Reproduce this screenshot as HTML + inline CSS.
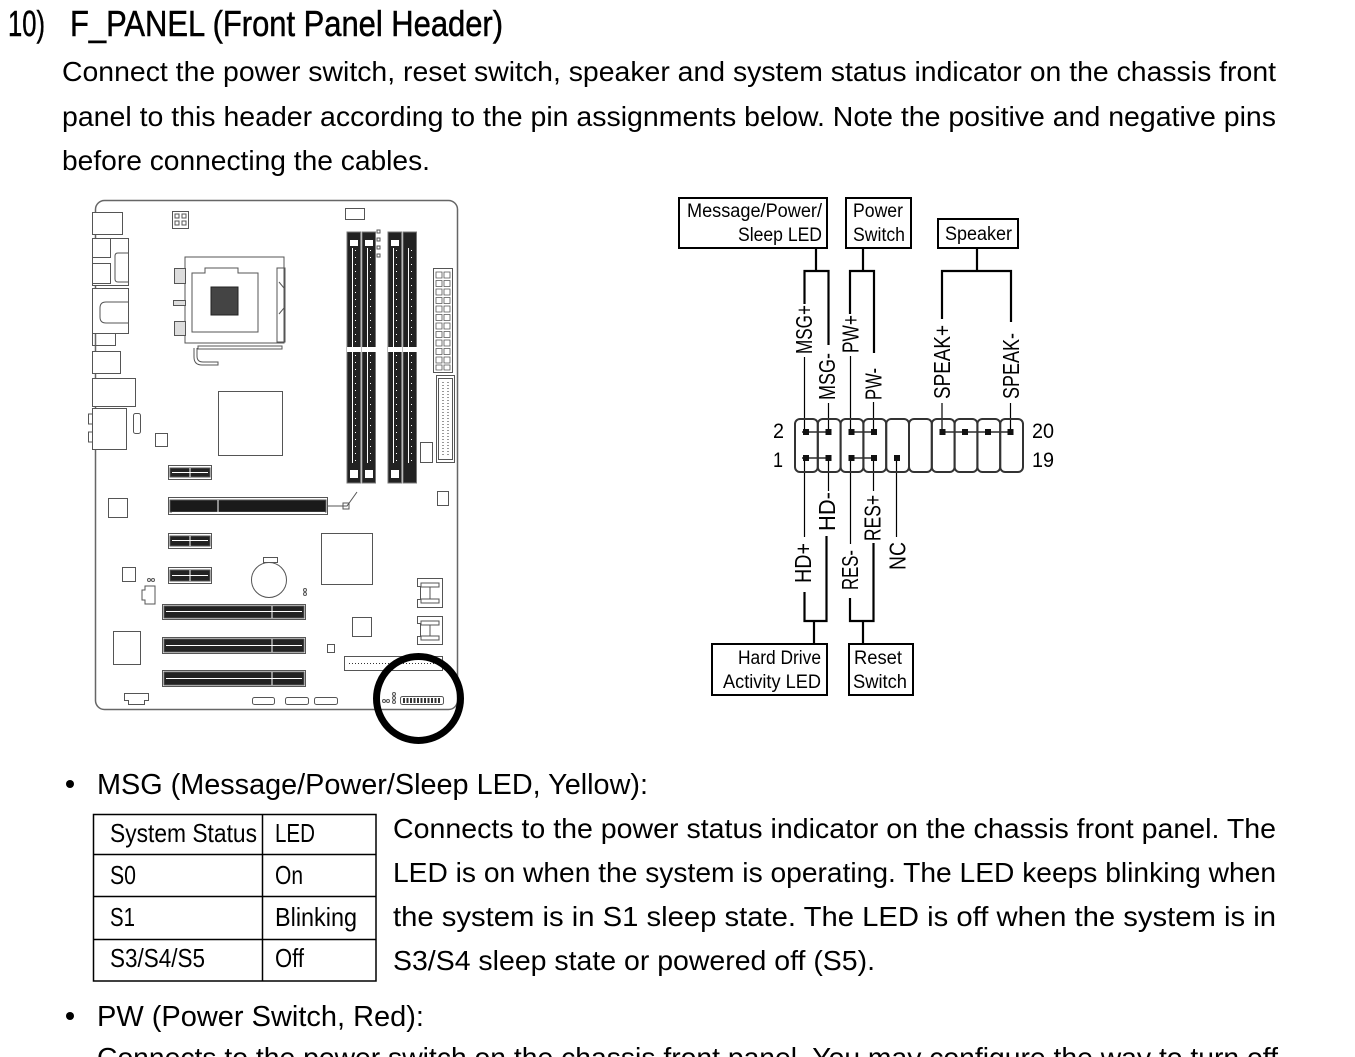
<!DOCTYPE html>
<html><head><meta charset="utf-8">
<style>
html,body{margin:0;padding:0;background:#fff;width:1355px;height:1057px;overflow:hidden;}
svg{display:block;}
text{font-family:"Liberation Sans",Arial,sans-serif;fill:#000;}
</style></head><body>
<svg width="1355" height="1057" viewBox="0 0 1355 1057" xmlns="http://www.w3.org/2000/svg">
<rect width="1355" height="1057" fill="#fff"/>

<!-- Title & intro -->
<text x="8" y="36" font-size="36" stroke="#000" stroke-width="0.5" textLength="37" lengthAdjust="spacingAndGlyphs">10)</text>
<text x="70" y="36" font-size="36" stroke="#000" stroke-width="0.5" textLength="433" lengthAdjust="spacingAndGlyphs">F_PANEL (Front Panel Header)</text>
<text x="62" y="81" font-size="28" textLength="1214" lengthAdjust="spacingAndGlyphs">Connect the power switch, reset switch, speaker and system status indicator on the chassis front</text>
<text x="62" y="126" font-size="28" textLength="1214" lengthAdjust="spacingAndGlyphs">panel to this header according to the pin assignments below. Note the positive and negative pins</text>
<text x="62" y="170" font-size="28" textLength="368" lengthAdjust="spacingAndGlyphs">before connecting the cables.</text>

<!-- Motherboard -->
<g fill="none" stroke="#555" stroke-width="1">
  <rect x="95.5" y="200.5" width="362" height="509" rx="9" stroke="#666" stroke-width="1.5"/>
  <!-- I/O -->
  <rect x="92.5" y="212.5" width="30" height="22" fill="#fff"/>
  <rect x="92.5" y="238.5" width="36" height="47" fill="#fff"/>
  <rect x="92.5" y="238.5" width="18" height="19"/>
  <rect x="92.5" y="263.5" width="18" height="20"/>
  <path d="M128 253 h-10 q-3 0 -3 3 v23 q0 3 3 3 h10"/>
  <rect x="92.5" y="288.5" width="36" height="45" fill="#fff"/>
  <path d="M92.5 333.5 v12 h23 v-12"/>
  <path d="M128 302 h-22 q-6 0 -6 6 v9 q0 6 6 6 h22"/>
  <rect x="92.5" y="351.5" width="28" height="22" fill="#fff"/>
  <rect x="92.5" y="378.5" width="43" height="28" fill="#fff"/>
  <rect x="92.5" y="408.5" width="34" height="41" fill="#fff"/>
  <path d="M92.5 414 h-4 v10 h4 M92.5 432 h-4 v10 h4"/>
  <rect x="133.5" y="413.5" width="7" height="20" rx="2"/>
  <rect x="155.5" y="433.5" width="12" height="13"/>
  <!-- ATX12V -->
  <rect x="172.5" y="211.5" width="16" height="17"/>
  <rect x="175" y="214" width="4" height="4"/><rect x="182" y="214" width="4" height="4"/>
  <rect x="175" y="221" width="4" height="4"/><rect x="182" y="221" width="4" height="4"/>
  <!-- CPU socket -->
  <path d="M185 257 h99 v86 h-99 z"/>
  <path d="M192 273 h13 v-5 h33 v5 h20 v59 h-66 z"/>
  <rect x="174.5" y="268.5" width="11" height="15" fill="#ddd"/>
  <rect x="173.5" y="300.5" width="12" height="5" fill="#ddd"/>
  <rect x="174.5" y="321.5" width="11" height="14" fill="#ddd"/>
  <path d="M277 268 h8 v74 h-8 z"/>
  <path d="M279 282 l5 6 v20 l-5 6"/>
  <rect x="211" y="287" width="27" height="28" fill="#444" stroke="#222"/>
  <path d="M198 346 h84 v3 h-84 z"/>
  <path d="M197 348 v8 q0 6 6 6 h15 v3 h-16 q-8 0 -8 -8 v-9"/>
  <!-- chipset -->
  <rect x="218.5" y="391.5" width="64" height="64"/>
  <!-- top fan header & dots -->
  <rect x="345.5" y="208.5" width="19" height="11"/>
  <rect x="377" y="230" width="3" height="3"/><rect x="377" y="238" width="3" height="3"/>
  <rect x="377" y="246" width="3" height="3"/><rect x="377" y="254" width="3" height="3"/>
  <!-- 24pin -->
  <rect x="433.5" y="268.5" width="19" height="104"/>
  <g stroke-width="0.8">
    <path d="M436 272 h6 v6 h-6 z M444 272 h6 v6 h-6 z M436 280.5 h6 v6 h-6 z M444 280.5 h6 v6 h-6 z M436 289 h6 v6 h-6 z M444 289 h6 v6 h-6 z M436 297.5 h6 v6 h-6 z M444 297.5 h6 v6 h-6 z M436 306 h6 v6 h-6 z M444 306 h6 v6 h-6 z M436 314.5 h6 v6 h-6 z M444 314.5 h6 v6 h-6 z M436 323 h6 v6 h-6 z M444 323 h6 v6 h-6 z M436 331.5 h6 v6 h-6 z M444 331.5 h6 v6 h-6 z M436 340 h6 v6 h-6 z M444 340 h6 v6 h-6 z M436 348.5 h6 v6 h-6 z M444 348.5 h6 v6 h-6 z M436 357 h6 v6 h-6 z M444 357 h6 v6 h-6 z M436 365 h6 v5 h-6 z M444 365 h6 v5 h-6 z"/>
  </g>
  <!-- IDE -->
  <rect x="436.5" y="375.5" width="18" height="87"/>
  <rect x="438.5" y="378.5" width="14" height="81"/>
  <path d="M443 382 v74 M448 382 v74" stroke="#333" stroke-dasharray="1 2"/>
  <rect x="420.5" y="442.5" width="12" height="20"/>
  <!-- PCIe x1 slots -->
  <rect x="168.5" y="465.5" width="43" height="14"/>
  <rect x="170" y="468" width="40" height="9" fill="#222"/>
  <rect x="168.5" y="533.5" width="43" height="15"/>
  <rect x="170" y="536" width="40" height="10" fill="#222"/>
  <rect x="168.5" y="567.5" width="43" height="16"/>
  <rect x="170" y="570" width="40" height="11" fill="#222"/>
  <!-- PCIe x16 -->
  <rect x="168.5" y="497.5" width="159" height="17"/>
  <rect x="170" y="500" width="156" height="12" fill="#1a1a1a"/>
  <path d="M327 506 h20 l10 -14" />
  <rect x="343" y="503" width="6" height="6"/>
  <!-- misc squares -->
  <rect x="108.5" y="498.5" width="19" height="19"/>
  <rect x="122.5" y="567.5" width="13" height="14"/>
  <circle cx="269" cy="580" r="17.5"/>
  <rect x="263.5" y="557.5" width="14" height="5"/>
  <rect x="321.5" y="533.5" width="51" height="51"/>
  <circle cx="305" cy="590" r="1.5"/><circle cx="305" cy="594" r="1.5"/>
  <circle cx="149" cy="580" r="1.5"/><circle cx="153" cy="580" r="1.5"/>
  <path d="M145 586 h10 v18 h-10 v-4 h-3 v-10 h3 z"/>
  <!-- PCI slots -->
  <rect x="162.5" y="604.5" width="143" height="15"/>
  <rect x="164" y="606" width="140" height="12" fill="#222"/>
  <rect x="162.5" y="637.5" width="143" height="16"/>
  <rect x="164" y="639" width="140" height="13" fill="#222"/>
  <rect x="162.5" y="670.5" width="143" height="16"/>
  <rect x="164" y="672" width="140" height="13" fill="#222"/>
  <rect x="113.5" y="631.5" width="27" height="33"/>
  <rect x="352.5" y="617.5" width="19" height="19"/>
  <rect x="327.5" y="644.5" width="7" height="8"/>
  <!-- SATA -->
  <path d="M417.5 578.5 h25 v29 h-25 v-8 h3 v-13 h-3 z"/>
  <path d="M421 583 h18 v4 h-18 z M421 599 h18 v4 h-18 z M430 587 v12"/>
  <path d="M417.5 616.5 h25 v28 h-25 v-8 h3 v-13 h-3 z"/>
  <path d="M421 621 h18 v4 h-18 z M421 636 h18 v4 h-18 z M430 625 v11"/>
  <!-- floppy -->
  <rect x="344.5" y="656.5" width="98" height="14"/>
  <path d="M349 663.5 h88" stroke="#333" stroke-dasharray="1 2"/>
  <rect x="437.5" y="491.5" width="11" height="14"/>
  <!-- bottom headers -->
  <path d="M124.5 693.5 h24 v7 h-4 v4 h-16 v-4 h-4 z"/>
  <rect x="252.5" y="697.5" width="22" height="7" rx="2"/>
  <rect x="285.5" y="697.5" width="23" height="7" rx="2"/>
  <rect x="314.5" y="697.5" width="23" height="7" rx="2"/>
  <rect x="400.5" y="696.5" width="43" height="8" rx="2"/>
  <path d="M403 700.5 h38" stroke="#333" stroke-dasharray="2 1.5" stroke-width="5"/>
  <circle cx="384" cy="701" r="1.5"/><circle cx="388" cy="701" r="1.5"/>
  <circle cx="394" cy="694" r="1.5"/><circle cx="394" cy="698" r="1.5"/><circle cx="394" cy="702" r="1.5"/>
</g>
<!-- PCI/PCIe slot details (white lines) -->
<g stroke="#fff" stroke-width="1" fill="none">
  <path d="M172 512.5 h153 M172 472.5 h36 M172 540.5 h36 M172 575.5 h36"/>
  <path d="M166 611.5 h136 M166 645.5 h136 M166 678.5 h136"/>
  <path d="M272 606 v12 M272 639 v13 M272 672 v13 M190 468 v9 M190 536 v10 M190 570 v11 M218 500 v12"/>
</g>
<!-- DIMM slots -->
<g>
  <rect x="347" y="232" width="13.5" height="251" fill="#222" stroke="#777"/>
  <rect x="362" y="232" width="13.5" height="251" fill="#222" stroke="#777"/>
  <rect x="388" y="232" width="13.5" height="251" fill="#222" stroke="#777"/>
  <rect x="403" y="232" width="13.5" height="251" fill="#222" stroke="#777"/>
  <g fill="#fff">
    <rect x="350" y="240" width="8" height="6"/><rect x="365" y="240" width="8" height="6"/>
    <rect x="391" y="240" width="8" height="6"/>
    <rect x="350" y="470" width="8" height="8"/><rect x="365" y="470" width="8" height="8"/>
    <rect x="391" y="470" width="8" height="8"/>
    <rect x="347" y="347" width="14" height="5"/><rect x="362" y="347" width="14" height="5"/>
    <rect x="388" y="347" width="14" height="5"/><rect x="403" y="347" width="14" height="5"/>
  </g>
  <g stroke="#fff" stroke-width="1">
    <path d="M352.5 248 v215 M367.5 248 v215 M393.5 248 v215 M408.5 248 v215"/>
  </g>
  <g stroke="#fff" stroke-width="1" stroke-dasharray="1 6">
    <path d="M355.5 250 v212 M370.5 250 v212 M396.5 250 v212 M411.5 250 v212"/>
  </g>
</g>

<!-- Highlight circle -->
<circle cx="418.5" cy="698.5" r="42" fill="none" stroke="#000" stroke-width="7"/>

<!-- Pin diagram boxes -->
<g fill="none" stroke="#000" stroke-width="2">
  <rect x="679" y="198" width="148" height="50"/>
  <rect x="846" y="198" width="65" height="50"/>
  <rect x="938" y="219" width="80" height="29"/>
  <rect x="712" y="644" width="115" height="51"/>
  <rect x="849" y="644" width="64" height="51"/>
</g>
<text x="687" y="217" font-size="19" textLength="135" lengthAdjust="spacingAndGlyphs">Message/Power/</text>
<text x="738" y="241" font-size="19" textLength="84" lengthAdjust="spacingAndGlyphs">Sleep LED</text>
<text x="853" y="217" font-size="19" textLength="50" lengthAdjust="spacingAndGlyphs">Power</text>
<text x="853" y="241" font-size="19" textLength="52" lengthAdjust="spacingAndGlyphs">Switch</text>
<text x="945" y="240" font-size="19" textLength="67" lengthAdjust="spacingAndGlyphs">Speaker</text>
<text x="738" y="664" font-size="19" textLength="83" lengthAdjust="spacingAndGlyphs">Hard Drive</text>
<text x="723" y="688" font-size="19" textLength="98" lengthAdjust="spacingAndGlyphs">Activity LED</text>
<text x="854" y="664" font-size="19" textLength="48" lengthAdjust="spacingAndGlyphs">Reset</text>
<text x="853" y="688" font-size="19" textLength="54" lengthAdjust="spacingAndGlyphs">Switch</text>

<!-- thick connector lines -->
<g fill="none" stroke="#000" stroke-width="2.2">
  <path d="M816 248 V271 M804.5 304 V271 H828.5 V345"/>
  <path d="M863 248 V271 M850 314 V271 H874 V353"/>
  <path d="M977 248 V271 M942 319 V271 H1011 V322"/>
  <path d="M804.5 592 V621 H826.5 V536 M814 621 V644"/>
  <path d="M850 598 V621 H873.5 V543 M863 621 V644"/>
</g>
<!-- thin connector lines -->
<g fill="none" stroke="#000" stroke-width="1.2">
  <path d="M804.5 357 V432 M828.5 403 V432 M850.5 356 V432 M873.5 402 V432 M942 403 V432 M1010.5 403 V432"/>
  <path d="M802 432 H830 M849 432 H876 M940 432 H1012"/>
  <path d="M802 458 H830 M849 458 H876"/>
  <path d="M804.5 458 V537 M828.5 458 V491 M850.5 458 V544 M873.5 458 V491 M896.5 458 V537"/>
</g>
<!-- header cells -->
<g fill="none" stroke="#333" stroke-width="2">
  <rect x="795" y="419" width="22.8" height="53" rx="5"/>
  <rect x="817.8" y="419" width="22.8" height="53" rx="5"/>
  <rect x="840.6" y="419" width="22.8" height="53" rx="5"/>
  <rect x="863.4" y="419" width="22.8" height="53" rx="5"/>
  <rect x="886.2" y="419" width="22.8" height="53" rx="5"/>
  <rect x="909" y="419" width="22.8" height="53" rx="5"/>
  <rect x="931.8" y="419" width="22.8" height="53" rx="5"/>
  <rect x="954.6" y="419" width="22.8" height="53" rx="5"/>
  <rect x="977.4" y="419" width="22.8" height="53" rx="5"/>
  <rect x="1000.2" y="419" width="22.8" height="53" rx="5"/>
</g>
<!-- pins -->
<g fill="#111">
  <rect x="803" y="429" width="6" height="6"/><rect x="825.5" y="429" width="6" height="6"/>
  <rect x="848.5" y="429" width="6" height="6"/><rect x="871" y="429" width="6" height="6"/>
  <rect x="939.5" y="429" width="6" height="6"/><rect x="962" y="429" width="6" height="6"/>
  <rect x="985" y="429" width="6" height="6"/><rect x="1007.5" y="429" width="6" height="6"/>
  <rect x="803" y="455" width="6" height="6"/><rect x="825.5" y="455" width="6" height="6"/>
  <rect x="848.5" y="455" width="6" height="6"/><rect x="871" y="455" width="6" height="6"/>
  <rect x="894" y="455" width="6" height="6"/>
</g>
<!-- pin numbers -->
<text x="773" y="438" font-size="21" textLength="11" lengthAdjust="spacingAndGlyphs">2</text>
<text x="773" y="467" font-size="21" textLength="10" lengthAdjust="spacingAndGlyphs">1</text>
<text x="1032" y="438" font-size="21" textLength="22" lengthAdjust="spacingAndGlyphs">20</text>
<text x="1032" y="467" font-size="21" textLength="22" lengthAdjust="spacingAndGlyphs">19</text>

<!-- rotated labels -->
<g font-size="23">
  <text transform="translate(812,354) rotate(-90)" textLength="49" lengthAdjust="spacingAndGlyphs">MSG+</text>
  <text transform="translate(835,400) rotate(-90)" textLength="47" lengthAdjust="spacingAndGlyphs">MSG-</text>
  <text transform="translate(858.5,353) rotate(-90)" textLength="38" lengthAdjust="spacingAndGlyphs">PW+</text>
  <text transform="translate(881.5,400) rotate(-90)" textLength="32" lengthAdjust="spacingAndGlyphs">PW-</text>
  <text transform="translate(950,399) rotate(-90)" textLength="74" lengthAdjust="spacingAndGlyphs">SPEAK+</text>
  <text transform="translate(1019,399) rotate(-90)" textLength="66" lengthAdjust="spacingAndGlyphs">SPEAK-</text>
  <text transform="translate(811,583) rotate(-90)" textLength="40" lengthAdjust="spacingAndGlyphs">HD+</text>
  <text transform="translate(835,531) rotate(-90)" textLength="39" lengthAdjust="spacingAndGlyphs">HD-</text>
  <text transform="translate(858,590) rotate(-90)" textLength="40" lengthAdjust="spacingAndGlyphs">RES-</text>
  <text transform="translate(880.5,541) rotate(-90)" textLength="46" lengthAdjust="spacingAndGlyphs">RES+</text>
  <text transform="translate(905.5,570) rotate(-90)" textLength="28" lengthAdjust="spacingAndGlyphs">NC</text>
</g>

<!-- MSG bullet -->
<circle cx="70" cy="784" r="4"/>
<text x="97" y="794" font-size="29" textLength="551" lengthAdjust="spacingAndGlyphs">MSG (Message/Power/Sleep LED, Yellow):</text>

<!-- table -->
<g fill="none" stroke="#000" stroke-width="1.5">
  <rect x="93.5" y="814.5" width="282.5" height="166.5"/>
  <path d="M262.5 814 V981 M93 854.5 H376 M93 896.5 H376 M93 939.5 H376"/>
</g>
<g font-size="26">
  <text x="110" y="842" textLength="147" lengthAdjust="spacingAndGlyphs">System Status</text>
  <text x="275" y="842" textLength="40" lengthAdjust="spacingAndGlyphs">LED</text>
  <text x="110" y="884" textLength="26" lengthAdjust="spacingAndGlyphs">S0</text>
  <text x="275" y="884" textLength="28" lengthAdjust="spacingAndGlyphs">On</text>
  <text x="110" y="926" textLength="25" lengthAdjust="spacingAndGlyphs">S1</text>
  <text x="275" y="926" textLength="82" lengthAdjust="spacingAndGlyphs">Blinking</text>
  <text x="110" y="967" textLength="95" lengthAdjust="spacingAndGlyphs">S3/S4/S5</text>
  <text x="275" y="967" textLength="29" lengthAdjust="spacingAndGlyphs">Off</text>
</g>

<!-- paragraph -->
<g font-size="28">
  <text x="393" y="838" textLength="883" lengthAdjust="spacingAndGlyphs">Connects to the power status indicator on the chassis front panel. The</text>
  <text x="393" y="882" textLength="883" lengthAdjust="spacingAndGlyphs">LED is on when the system is operating. The LED keeps blinking when</text>
  <text x="393" y="926" textLength="883" lengthAdjust="spacingAndGlyphs">the system is in S1 sleep state. The LED is off when the system is in</text>
  <text x="393" y="970" textLength="482" lengthAdjust="spacingAndGlyphs">S3/S4 sleep state or powered off (S5).</text>
</g>

<!-- PW bullet -->
<circle cx="70" cy="1016" r="4"/>
<text x="97" y="1026" font-size="29" textLength="327" lengthAdjust="spacingAndGlyphs">PW (Power Switch, Red):</text>
<text x="97" y="1067" font-size="28" textLength="1181" lengthAdjust="spacingAndGlyphs">Connects to the power switch on the chassis front panel. You may configure the way to turn off</text>
</svg>
</body></html>
